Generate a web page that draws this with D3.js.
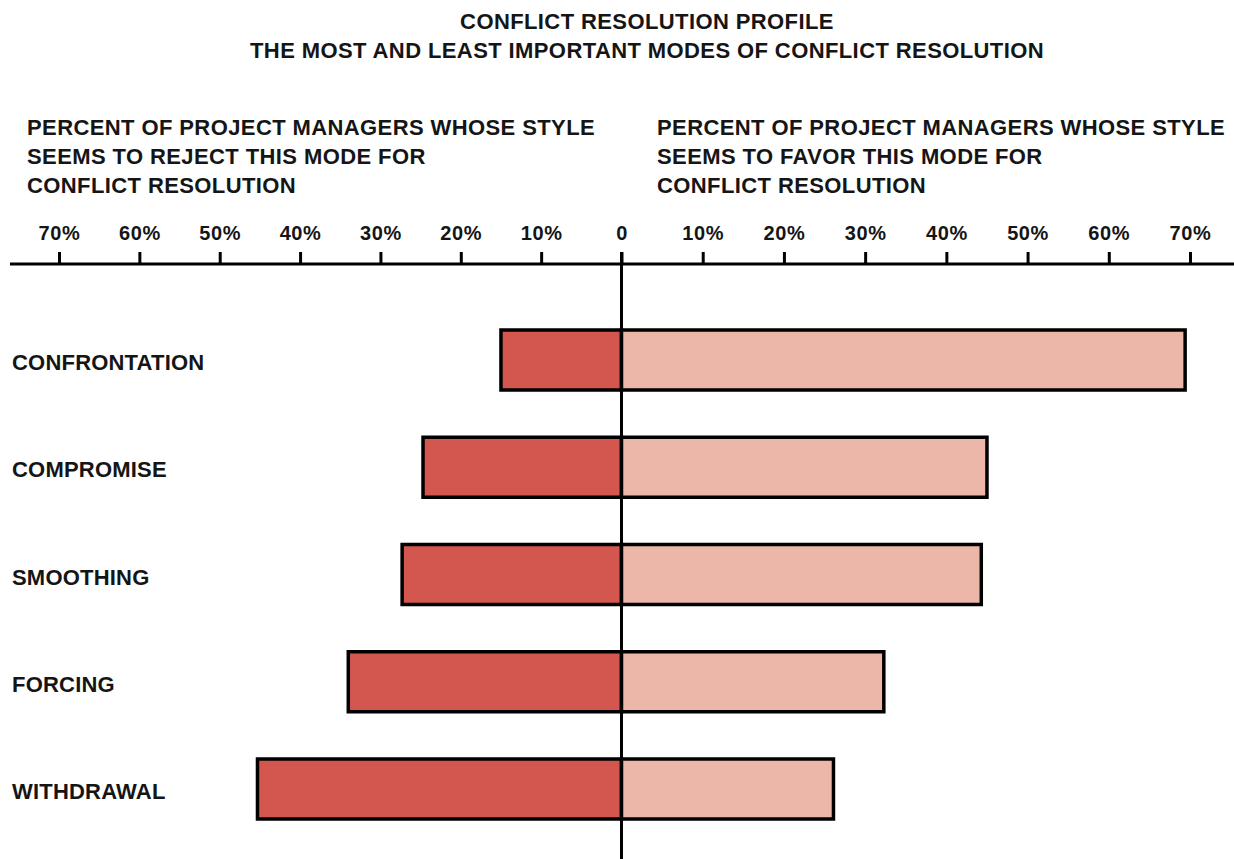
<!DOCTYPE html>
<html>
<head>
<meta charset="utf-8">
<script src="https://cdn.jsdelivr.net/npm/d3@7"></script>
<style>
  html, body { margin: 0; padding: 0; background: #fff; }
  svg { display: block; }
  text { font-family: "Liberation Sans", Arial, Helvetica, sans-serif; font-weight: bold; fill: #151515; }
</style>
</head>
<body>
<svg id="chart" width="1234" height="859"></svg>
<script>
// Conflict resolution modes and the share of project managers rejecting / favoring each
const modes = ["CONFRONTATION", "COMPROMISE", "SMOOTHING", "FORCING", "WITHDRAWAL"];
const rejectPct = [15, 24.7, 27.3, 34, 45.3];
const favorPct = [69.4, 45, 44.3, 32.3, 26.1];
const tickValues = [-70, -60, -50, -40, -30, -20, -10, 0, 10, 20, 30, 40, 50, 60, 70];

const titleLines = [
  "CONFLICT RESOLUTION PROFILE",
  "THE MOST AND LEAST IMPORTANT MODES OF CONFLICT RESOLUTION"
];
const leftHeading = [
  "PERCENT OF PROJECT MANAGERS WHOSE STYLE",
  "SEEMS TO REJECT THIS MODE FOR",
  "CONFLICT RESOLUTION"
];
const rightHeading = [
  "PERCENT OF PROJECT MANAGERS WHOSE STYLE",
  "SEEMS TO FAVOR THIS MODE FOR",
  "CONFLICT RESOLUTION"
];

const svg = d3.select("#chart");
const W = 1234, H = 859;
const axisY = 264;

// Diverging scale: rejection to the left of zero, favor to the right
const x = d3.scaleLinear().domain([-70, 0, 70]).range([59, 621.5, 1190]);
const y = d3.scalePoint().domain(modes).range([360, 789]);
const barH = 60;

const darkRed = "#d4574f";
const lightRed = "#ecb7a9";

// Titles
svg.append("g").selectAll("text").data(titleLines).join("text")
  .attr("x", 647).attr("y", (d, i) => 29 + i * 28.5)
  .attr("text-anchor", "middle")
  .style("font-size", "22px").style("letter-spacing", "0.4px")
  .text(d => d);

// Side headings
const headY = [135, 164, 193];
svg.append("g").selectAll("text").data(leftHeading).join("text")
  .attr("x", 27).attr("y", (d, i) => headY[i])
  .style("font-size", "22px").style("letter-spacing", "0.4px")
  .text(d => d);
svg.append("g").selectAll("text").data(rightHeading).join("text")
  .attr("x", 657).attr("y", (d, i) => headY[i])
  .style("font-size", "22px").style("letter-spacing", "0.4px")
  .text(d => d);

// Bars
const bars = svg.append("g");
bars.selectAll("rect.reject").data(modes).join("rect")
  .attr("class", "reject")
  .attr("x", (d, i) => x(-rejectPct[i]))
  .attr("y", d => y(d) - barH / 2)
  .attr("width", (d, i) => x(0) - x(-rejectPct[i]))
  .attr("height", barH)
  .attr("fill", darkRed).attr("stroke", "#000").attr("stroke-width", 3.5);
bars.selectAll("rect.favor").data(modes).join("rect")
  .attr("class", "favor")
  .attr("x", x(0))
  .attr("y", d => y(d) - barH / 2)
  .attr("width", (d, i) => x(favorPct[i]) - x(0))
  .attr("height", barH)
  .attr("fill", lightRed).attr("stroke", "#000").attr("stroke-width", 3.5);

// Category labels
svg.append("g").selectAll("text").data(modes).join("text")
  .attr("x", 12).attr("y", d => y(d) + 10)
  .style("font-size", "22px").style("letter-spacing", "0.2px")
  .text(d => d);

// Top axis with percent ticks
const axis = d3.axisTop(x)
  .tickValues(tickValues)
  .tickSize(12)
  .tickPadding(12)
  .tickFormat(d => d === 0 ? "0" : Math.abs(d) + "%");
const gAxis = svg.append("g").attr("transform", `translate(0,${axisY})`).call(axis);
gAxis.select(".domain").remove();
gAxis.selectAll(".tick line").attr("stroke", "#000").attr("stroke-width", 3);
gAxis.selectAll(".tick text")
  .style("font-size", "20px").style("letter-spacing", "0.6px")
  .style("font-family", "'Liberation Sans', Arial, sans-serif").style("font-weight", "bold")
  .attr("fill", "#151515");

// Horizontal axis rule and vertical zero line
svg.append("line")
  .attr("x1", 10).attr("x2", W).attr("y1", axisY).attr("y2", axisY)
  .attr("stroke", "#000").attr("stroke-width", 3);
svg.append("line")
  .attr("x1", x(0)).attr("x2", x(0)).attr("y1", axisY - 12).attr("y2", H)
  .attr("stroke", "#000").attr("stroke-width", 3);
</script>
</body>
</html>
